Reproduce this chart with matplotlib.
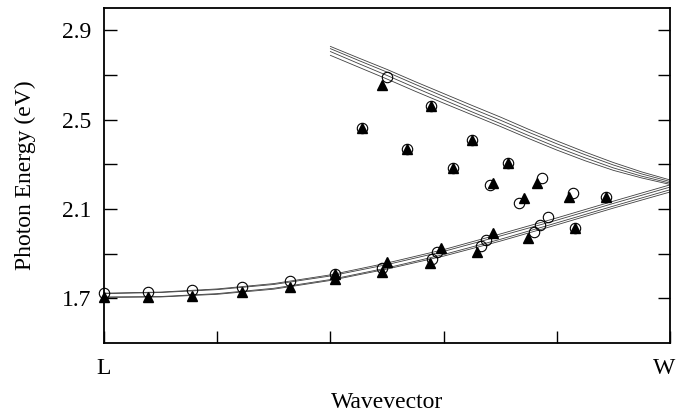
"""Photon energy dispersion along L-W: calculated bands and measured points."""

import matplotlib
matplotlib.use("Agg")
import matplotlib.pyplot as plt
from matplotlib.transforms import ScaledTranslation

plt.rcParams["font.family"] = ["Liberation Serif", "DejaVu Serif"]

# calculated bands (4 lines each)
k_low = [0.0, 0.1, 0.2, 0.3, 0.4, 0.5, 0.6, 0.7, 0.8, 0.9, 1.0]
low_a = [1.723, 1.728, 1.742, 1.766, 1.805, 1.858, 1.918, 1.988, 2.060, 2.135, 2.208]
low_b = [1.721, 1.726, 1.739, 1.762, 1.800, 1.851, 1.910, 1.979, 2.050, 2.125, 2.198]
low_c = [1.706, 1.708, 1.721, 1.745, 1.784, 1.836, 1.896, 1.964, 2.038, 2.113, 2.186]
low_d = [1.704, 1.706, 1.718, 1.741, 1.780, 1.831, 1.889, 1.956, 2.029, 2.104, 2.176]

k_up = [0.4, 0.45, 0.5, 0.55, 0.6, 0.65, 0.7, 0.75, 0.8, 0.85, 0.9, 0.95, 1.0]
up_a = [2.828, 2.776, 2.725, 2.670, 2.617, 2.564, 2.512, 2.457, 2.405, 2.355, 2.308, 2.266, 2.230]
up_b = [2.818, 2.765, 2.713, 2.658, 2.604, 2.550, 2.498, 2.444, 2.392, 2.343, 2.297, 2.257, 2.223]
up_c = [2.805, 2.751, 2.698, 2.643, 2.589, 2.535, 2.483, 2.429, 2.377, 2.329, 2.284, 2.247, 2.216]
up_d = [2.788, 2.735, 2.682, 2.627, 2.574, 2.522, 2.470, 2.416, 2.364, 2.316, 2.273, 2.239, 2.210]

# measured points: open circles
circ_k = [0.0, 0.078, 0.155, 0.244, 0.329, 0.408, 0.491, 0.580, 0.588,
          0.666, 0.675, 0.760, 0.770, 0.784,
          0.456, 0.500, 0.578, 0.535, 0.650, 0.617, 0.714, 0.682, 0.733,
          0.774, 0.829, 0.887, 0.832]
circ_e = [1.722, 1.727, 1.736, 1.749, 1.778, 1.810, 1.835, 1.875, 1.907,
          1.934, 1.961, 1.997, 2.028, 2.064,
          2.464, 2.693, 2.563, 2.370, 2.410, 2.284, 2.307, 2.208, 2.127,
          2.239, 2.172, 2.154, 2.015]

# measured points: filled triangles
tri_k = [0.0, 0.078, 0.155, 0.244, 0.329, 0.408, 0.408, 0.500, 0.491,
         0.576, 0.595, 0.659, 0.687, 0.749,
         0.456, 0.491, 0.578, 0.535, 0.650, 0.617, 0.714, 0.687, 0.742,
         0.765, 0.822, 0.887, 0.832]
tri_e = [1.704, 1.704, 1.709, 1.727, 1.752, 1.808, 1.785, 1.862, 1.817,
         1.857, 1.925, 1.907, 1.992, 1.970,
         2.464, 2.653, 2.563, 2.370, 2.410, 2.284, 2.307, 2.217, 2.149,
         2.217, 2.154, 2.154, 2.015]

y_ticks = [1.7, 1.9, 2.1, 2.3, 2.5, 2.7, 2.9]
y_labels = ["1.7", "", "2.1", "", "2.5", "", "2.9"]
x_ticks = [0.0, 0.2, 0.4, 0.6, 0.8, 1.0]
x_labels = ["L", "", "", "", "", "W"]

fig = plt.figure(figsize=(6.78, 4.17), dpi=100)
ax = fig.add_axes([0.1534, 0.1775, 0.8348, 0.8033])

for ys in (low_a, low_b, low_c, low_d):
    ax.plot(k_low, ys, color="0.25", linewidth=0.6)
for ys in (up_a, up_b, up_c, up_d):
    ax.plot(k_up, ys, color="0.25", linewidth=0.6)

ax.plot(circ_k, circ_e, linestyle="none", marker="o", markersize=7.5,
        markerfacecolor="none", markeredgecolor="black", markeredgewidth=0.8,
        clip_on=False)
ax.plot(tri_k, tri_e, linestyle="none", marker="^", markersize=6.5,
        color="black", clip_on=False)

ax.set_xlim(0, 1)
ax.set_ylim(1.5, 3.0)
ax.set_yticks(y_ticks)
ax.set_yticklabels(y_labels)
ax.set_xticks(x_ticks)
ax.set_xticklabels(x_labels)
ax.tick_params(axis="y", direction="in", length=9, width=1, right=True,
               labelsize=17, pad=9)
ax.tick_params(axis="x", direction="in", length=9, width=1,
               labelsize=17, pad=11)
for s in ax.spines.values():
    s.set_linewidth(1.3)

# nudge "W" a little left so it stays inside the figure
w_lab = ax.get_xticklabels()[-1]
w_lab.set_transform(w_lab.get_transform()
                    + ScaledTranslation(-4 / 72, 0, fig.dpi_scale_trans))

ax.set_ylabel("Photon Energy (eV)", fontsize=17, labelpad=19)
ax.set_xlabel("Wavevector", fontsize=17, labelpad=9)

fig.savefig("out.png", dpi=100)
